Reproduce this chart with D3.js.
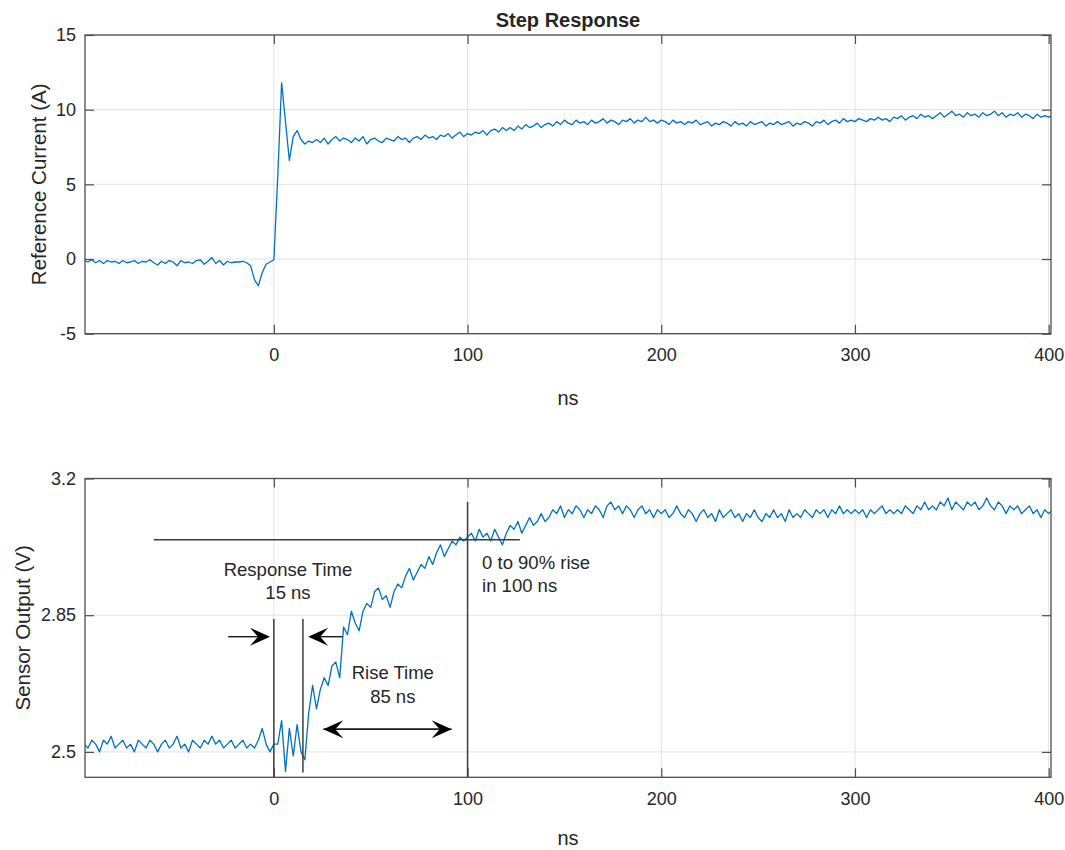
<!DOCTYPE html>
<html><head><meta charset="utf-8">
<script src="https://cdn.jsdelivr.net/npm/d3@7"></script>
<style>
body{margin:0;background:#fff}
svg{display:block}
text{font-family:Arial,"Liberation Sans",Helvetica,sans-serif;fill:#262626}
</style></head>
<body><svg id="c" width="1065" height="850"></svg>
<script>
// ---------- data ----------
const tStart = -98, tStep = 2;            // ns, sampling of both traces
const xDomain = [-97.5, 401.2];
const xTicks = [0, 100, 200, 300, 400];

const currentTicks = [-5, 0, 5, 10, 15];
const currentDomain = [-5, 15];
const current = [ // Reference Current (A)
 -0.1,-0.2,-0.05,-0.25,-0.1,-0.3,-0.1,-0.2,-0.15,-0.3,
 -0.1,-0.25,-0.2,-0.1,-0.3,-0.15,-0.2,-0.05,-0.25,-0.4,
 -0.15,-0.3,-0.1,-0.2,-0.45,-0.1,-0.25,-0.2,-0.3,-0.1,
 -0.05,-0.35,-0.15,0.1,-0.3,-0.1,-0.4,-0.15,-0.25,-0.2,
 -0.2,-0.15,-0.25,-0.45,-1.4,-1.8,-0.9,-0.35,-0.2,-0.05,
 5.5,11.8,9.2,6.6,8.2,8.6,8.0,7.7,7.9,7.8,
 8.0,7.8,8.1,7.7,8.0,8.2,7.9,8.1,8.0,7.8,
 8.1,7.9,8.2,7.7,8.0,8.1,7.9,7.8,8.1,8.0,
 7.9,8.2,8.0,8.1,7.8,8.1,8.2,8.0,8.3,8.1,
 8.2,8.0,8.3,8.2,8.4,8.1,8.3,8.5,8.2,8.4,
 8.3,8.5,8.4,8.6,8.3,8.6,8.7,8.5,8.8,8.6,
 8.8,8.6,8.9,8.7,9.0,8.8,8.9,9.1,8.8,9.0,
 9.1,8.9,9.2,9.0,9.3,9.1,9.0,9.3,9.1,9.2,
 9.0,9.3,9.1,9.2,9.4,9.1,9.3,9.2,9.0,9.3,
 9.2,9.4,9.1,9.3,9.2,9.5,9.2,9.3,9.1,9.3,
 9.2,9.0,9.3,9.1,9.2,9.0,9.2,9.1,9.3,9.0,
 9.1,9.2,8.9,9.1,9.0,9.2,9.1,8.9,9.2,9.0,
 9.1,8.9,9.2,9.0,9.1,9.2,8.9,9.1,9.0,9.2,
 9.0,9.1,9.2,8.9,9.1,9.0,9.2,9.1,8.9,9.2,
 9.1,9.3,9.0,9.2,9.3,9.1,9.4,9.2,9.3,9.2,
 9.4,9.3,9.2,9.4,9.3,9.5,9.3,9.4,9.2,9.5,
 9.4,9.6,9.3,9.5,9.6,9.4,9.7,9.5,9.6,9.4,
 9.6,9.8,9.5,9.7,9.9,9.6,9.7,9.5,9.8,9.6,
 9.7,9.5,9.8,9.6,9.7,9.9,9.6,9.8,9.5,9.7,
 9.6,9.8,9.5,9.7,9.6,9.4,9.7,9.5,9.6,9.5,
 9.6
];

const sensorTicks = [2.5, 2.85, 3.2];
const sensorDomain = [2.435, 3.2];
const sensor = [ // Sensor Output (V)
 2.52,2.51,2.53,2.52,2.50,2.53,2.52,2.54,2.51,2.52,
 2.53,2.51,2.52,2.50,2.53,2.52,2.51,2.53,2.52,2.50,
 2.52,2.53,2.51,2.52,2.54,2.51,2.52,2.50,2.53,2.52,
 2.51,2.53,2.52,2.54,2.52,2.53,2.51,2.52,2.53,2.51,
 2.52,2.53,2.51,2.52,2.51,2.53,2.56,2.52,2.50,2.52,
 2.52,2.58,2.45,2.56,2.49,2.57,2.50,2.48,2.60,2.67,
 2.61,2.66,2.69,2.67,2.72,2.73,2.69,2.82,2.80,2.86,
 2.83,2.81,2.86,2.88,2.87,2.91,2.92,2.89,2.90,2.87,
 2.91,2.93,2.92,2.95,2.97,2.94,2.96,2.98,2.97,3.00,
 2.98,3.01,3.03,3.00,3.02,3.04,3.03,3.05,3.04,3.05,
 3.06,3.04,3.07,3.05,3.06,3.04,3.07,3.05,3.03,3.06,
 3.08,3.07,3.09,3.06,3.08,3.10,3.08,3.09,3.11,3.09,
 3.10,3.12,3.11,3.13,3.10,3.12,3.11,3.13,3.12,3.10,
 3.12,3.11,3.13,3.12,3.10,3.13,3.14,3.12,3.13,3.11,
 3.13,3.12,3.10,3.12,3.13,3.11,3.12,3.10,3.12,3.11,
 3.12,3.10,3.11,3.13,3.11,3.10,3.12,3.11,3.09,3.11,
 3.12,3.10,3.11,3.09,3.12,3.10,3.11,3.12,3.10,3.11,
 3.09,3.11,3.10,3.12,3.10,3.09,3.11,3.10,3.12,3.10,
 3.11,3.09,3.12,3.10,3.11,3.10,3.12,3.11,3.10,3.12,
 3.11,3.12,3.10,3.12,3.11,3.13,3.11,3.12,3.11,3.12,
 3.11,3.12,3.10,3.12,3.11,3.12,3.13,3.11,3.12,3.11,
 3.12,3.11,3.13,3.12,3.11,3.13,3.12,3.14,3.12,3.13,
 3.12,3.14,3.13,3.15,3.12,3.14,3.13,3.12,3.14,3.13,
 3.14,3.12,3.13,3.15,3.13,3.12,3.14,3.13,3.11,3.13,
 3.12,3.13,3.11,3.12,3.13,3.11,3.12,3.10,3.12,3.11,
 3.12
];

// annotation geometry in data units (ns, V) for the lower panel
const refLines = [
  [[-62, 3.043], [127, 3.043]],   // 90% level
  [[0, 2.84], [0, 2.435]],        // step start
  [[15, 2.84], [15, 2.447]],      // response
  [[100, 3.14], [100, 2.435]]     // 90% time
];
const arrows = [ // [from, to, doubleHeaded]
  [[-23.6, 2.795], [-2, 2.795], false],
  [[35.6, 2.795], [17.7, 2.795], false],
  [[25.5, 2.558], [91.8, 2.558], true]
];
const notes = [ // [text, t, v, anchor]
  ["Response Time", 7.3, 2.967, "middle"],
  ["15 ns", 7.3, 2.908, "middle"],
  ["Rise Time", 61.4, 2.704, "middle"],
  ["85 ns", 61.4, 2.643, "middle"],
  ["0 to 90% rise", 107.5, 2.985, "start"],
  ["in 100 ns", 107.5, 2.925, "start"]
];

// ---------- drawing ----------
const svg = d3.select('#c');
const left = 85, right = 1051;
const x = d3.scaleLinear().domain(xDomain).range([left, right]);
const times = current.map((_, i) => tStart + i * tStep);
const FONT = 'Arial, "Liberation Sans", Helvetica, sans-serif';

function panel(cfg) {
  const {id, top, bottom, yDomain, yTicks, values, yLabel, yLabelX, xLabelY} = cfg;
  const y = d3.scaleLinear().domain(yDomain).range([bottom, top]);
  const g = svg.append('g');

  g.append('clipPath').attr('id', id).append('rect')
    .attr('x', left).attr('y', top).attr('width', right - left).attr('height', bottom - top);

  // grid
  g.selectAll(null).data(xTicks).join('line')
    .attr('x1', d => x(d)).attr('x2', d => x(d)).attr('y1', top).attr('y2', bottom)
    .attr('stroke', '#e2e2e2').attr('stroke-width', 1);
  g.selectAll(null).data(yTicks).join('line')
    .attr('x1', left).attr('x2', right).attr('y1', d => y(d)).attr('y2', d => y(d))
    .attr('stroke', '#e2e2e2').attr('stroke-width', 1);

  // trace
  g.append('path')
    .datum(values.map((v, i) => [times[i], v]))
    .attr('clip-path', `url(#${id})`)
    .attr('fill', 'none').attr('stroke', '#0072BD').attr('stroke-width', 1.3)
    .attr('stroke-linejoin', 'round')
    .attr('d', d3.line().x(d => x(d[0])).y(d => y(d[1])));

  // axes (ticks inward, box style)
  const styleAxis = sel => {
    sel.select('.domain').remove();
    sel.selectAll('.tick line').attr('stroke', '#4d4d4d').attr('stroke-width', 1.2);
    sel.selectAll('text').attr('font-size', 18).attr('font-family', FONT).attr('fill', '#262626');
  };
  g.append('g').attr('transform', `translate(0,${bottom})`)
    .call(d3.axisBottom(x).tickValues(xTicks).tickSize(-9).tickPadding(14.5).tickFormat(d3.format('d')))
    .call(styleAxis);
  g.append('g').attr('transform', `translate(0,${top})`)
    .call(d3.axisTop(x).tickValues(xTicks).tickSize(-9).tickFormat(''))
    .call(styleAxis);
  g.append('g').attr('transform', `translate(${left},0)`)
    .call(d3.axisLeft(y).tickValues(yTicks).tickSize(-9).tickPadding(9).tickFormat(d => String(d)))
    .call(styleAxis);
  g.append('g').attr('transform', `translate(${right},0)`)
    .call(d3.axisRight(y).tickValues(yTicks).tickSize(-9).tickFormat(''))
    .call(styleAxis);

  g.append('rect').attr('x', left).attr('y', top).attr('width', right - left).attr('height', bottom - top)
    .attr('fill', 'none').attr('stroke', '#4d4d4d').attr('stroke-width', 1.3);

  // labels
  g.append('text').attr('x', (left + right) / 2).attr('y', xLabelY)
    .attr('text-anchor', 'middle').attr('font-size', 20).text('ns');
  g.append('text').attr('transform', `translate(${yLabelX},${(top + bottom) / 2}) rotate(-90)`)
    .attr('text-anchor', 'middle').attr('dominant-baseline', 'central').attr('font-size', 20.5).text(yLabel);
  return y;
}

panel({id: 'c1', top: 35, bottom: 333.7, yDomain: currentDomain, yTicks: currentTicks,
  values: current, yLabel: 'Reference Current (A)', yLabelX: 38, xLabelY: 405});
const y2 = panel({id: 'c2', top: 478.5, bottom: 777.3, yDomain: sensorDomain, yTicks: sensorTicks,
  values: sensor, yLabel: 'Sensor Output (V)', yLabelX: 22, xLabelY: 845});

svg.append('text').attr('x', (left + right) / 2).attr('y', 27)
  .attr('text-anchor', 'middle').attr('font-size', 20).attr('font-weight', 'bold')
  .attr('fill', '#000').text('Step Response');

// annotations (lower panel)
const ann = svg.append('g');
ann.selectAll(null).data(refLines).join('line')
  .attr('x1', d => x(d[0][0])).attr('y1', d => y2(d[0][1]))
  .attr('x2', d => x(d[1][0])).attr('y2', d => y2(d[1][1]))
  .attr('stroke', '#3c3c3c').attr('stroke-width', 1.5);

function head(px, py, dir) { // dir: +1 pointing right, -1 pointing left
  const L = 20, Wd = 9, N = 12;
  return `M${px},${py} L${px - dir * L},${py - Wd} L${px - dir * N},${py} L${px - dir * L},${py + Wd} Z`;
}
arrows.forEach(([a, b, dbl]) => {
  const x1 = x(a[0]), yy = y2(a[1]), x2 = x(b[0]);
  const dir = x2 > x1 ? 1 : -1;
  ann.append('line').attr('x1', x1).attr('x2', x2 - dir * 12).attr('y1', yy).attr('y2', yy)
    .attr('stroke', '#1a1a1a').attr('stroke-width', 1.4);
  if (dbl) ann.append('line').attr('x1', x1 + dir * 12).attr('x2', x2).attr('y1', yy).attr('y2', yy)
    .attr('stroke', '#1a1a1a').attr('stroke-width', 1.4);
  ann.append('path').attr('d', head(x2, yy, dir)).attr('fill', '#000');
  if (dbl) ann.append('path').attr('d', head(x1, yy, -dir)).attr('fill', '#000');
});
ann.selectAll(null).data(notes).join('text')
  .attr('x', d => x(d[1])).attr('y', d => y2(d[2]))
  .attr('text-anchor', d => d[3]).attr('dominant-baseline', 'central')
  .attr('font-size', 18.5).attr('fill', '#1a1a1a').text(d => d[0]);
</script>
</body></html>
